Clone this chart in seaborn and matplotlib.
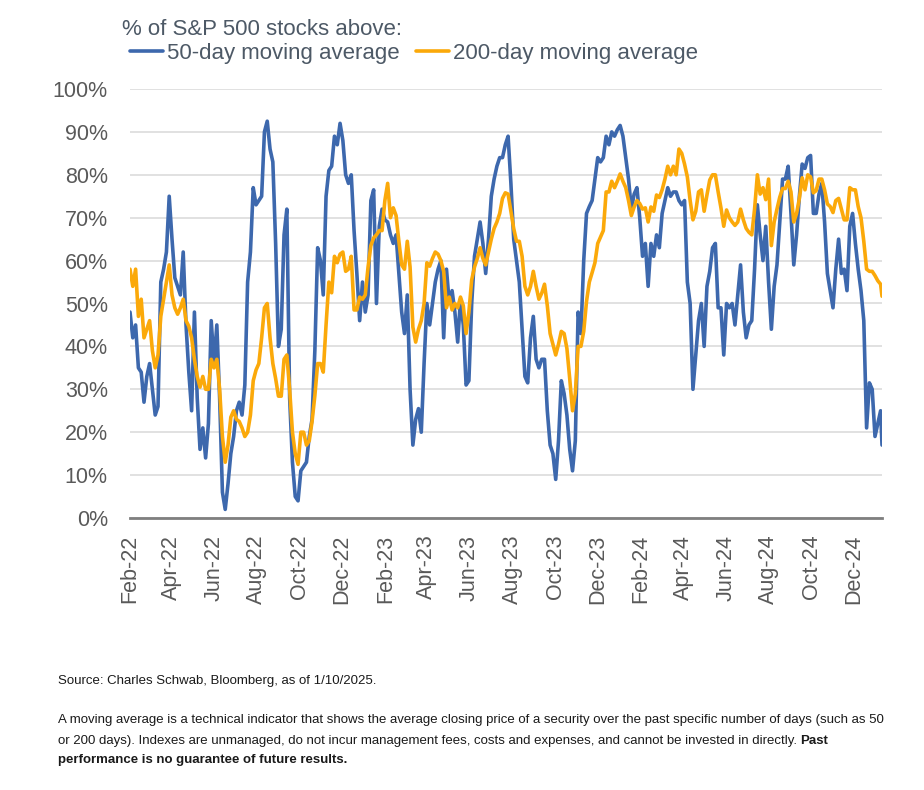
import pandas as pd
import matplotlib
matplotlib.use("Agg")
import matplotlib.pyplot as plt
import seaborn as sns
from matplotlib.ticker import MultipleLocator, PercentFormatter

# readings every 4 days from Feb 1, 2022, last one on Jan 10, 2025
dates = list(pd.date_range("2022-02-01", "2025-01-08", freq="4D")) + [pd.Timestamp("2025-01-10")]

ma50 = [
    48, 42, 45, 35, 34, 27, 33, 36, 30, 24, 26, 55, 58, 62, 75, 65, 56, 54, 52, 62,
    45, 34, 25, 48, 28, 16, 21, 14, 22, 46, 36, 45, 28, 6, 2, 8, 15, 19, 25, 27,
    24, 31, 55, 62, 77, 73, 74, 75, 90, 92.5, 86, 83, 64, 40, 44, 66, 72, 28, 13, 5,
    4, 11, 12, 13, 19, 23, 39, 63,
    60, 52, 75, 81, 82, 89, 87, 92, 88, 80, 78, 80, 67, 57, 46, 55, 48, 52, 74, 76.5,
    50, 68, 72, 69.5, 69, 66, 64, 66, 57, 48, 43, 52, 30, 17, 23, 25.5, 20, 36, 50, 45,
    50, 55, 58, 60, 42, 58, 50, 53, 48, 41, 51, 45, 31, 32, 50, 61, 65, 69, 64, 57,
    65, 75, 79, 82, 84, 84,
    87, 89, 78, 65, 60, 55, 44, 33, 31.5, 42, 47, 37, 35, 37, 37, 25, 17, 15, 9, 18,
    32, 29, 24, 16, 11, 18, 48, 43, 60, 71, 72.6, 74, 79, 84, 83, 84, 89, 87, 90, 89,
    90.5, 91.5, 89, 84, 79, 72, 75.5, 77, 70, 61, 64, 54, 64, 61, 66, 63, 71, 74, 77, 75,
    76, 76, 74, 73, 74, 55,
    50, 30, 38, 46, 50, 40, 54, 57.5, 63, 64, 49, 49, 38, 50, 49, 50, 45, 52, 59, 48,
    42, 45, 46, 58, 73, 66, 60, 68, 55, 44, 54, 59, 69, 79, 79, 82, 71, 59, 66, 75,
    82.5, 81.5, 84, 84.5, 71, 71, 75.5, 78, 69, 57, 53, 49, 58, 65, 57, 58, 53, 68, 71, 64,
    58, 53, 46, 21, 31.5, 30, 19, 22, 25, 17,
]

ma200 = [
    58, 54, 58, 47, 51, 42, 44, 46, 39, 35, 38, 47, 51, 55, 59, 52, 49, 47.5, 49, 51,
    46, 44.7, 42, 37, 33, 30.5, 33, 30, 30, 37, 35, 37, 30, 19, 13, 17, 23.5, 25, 23, 22.5,
    21, 19, 20, 24, 32, 34.5, 36, 42, 49, 50, 42, 36, 32.5, 28.4, 28.4, 37, 38, 30, 20, 15,
    12.5, 20, 20, 17, 18, 22.5, 28.5, 36,
    36, 34, 45, 55, 52.5, 61, 59.5, 61.5, 62, 57.5, 58, 61, 48.5, 48.5, 51.5, 51, 52, 58.5, 63.5, 65.3,
    66, 67, 67, 74, 78, 70, 72.3, 70.5, 64.5, 59, 58, 64.5, 58.5, 44.5, 41, 44, 46, 50, 59.5, 58.7,
    60.5, 62, 61.5, 60, 57.5, 49, 51.5, 48.5, 50, 49, 51.5, 49.5, 43, 48, 55.5, 58.5, 60.5, 63, 60.5, 59,
    62, 65, 67.5, 69, 71, 74.5,
    75.8, 75.5, 71.5, 67.5, 64.5, 64.5, 61, 54, 52, 54, 57.5, 54, 51, 52.4, 54.5, 49.5, 43, 40.5, 38, 40.5,
    43.5, 43, 39.5, 32.5, 25, 29, 40, 40, 43.5, 50.5, 55, 57.2, 59.5, 64, 65.5, 67, 76, 76, 78.5, 77,
    78.5, 80.2, 78.5, 77, 74, 70.5, 72.5, 74, 73.3, 72, 72.3, 69, 72.5, 71.5, 75.3, 74.7, 76.5, 79, 82, 80,
    82, 80, 86, 85, 82.5, 79.5,
    74, 69.5, 71.5, 76, 76.5, 71.5, 75.3, 78.8, 80, 80, 76, 72.3, 68, 71.8, 70, 69, 68.2, 69, 72, 69.5,
    67.5, 66.6, 66, 72, 80, 75.5, 77, 74.2, 79, 63.5, 69, 72, 74.8, 76.8, 76.8, 78.5, 76, 69, 71, 74.5,
    79.3, 76.5, 80, 79.5, 75.8, 76.3, 79, 79, 76.5, 73.2, 72.6, 71.2, 74, 74.5, 72, 69.5, 69.5, 77, 76.5, 76.5,
    72.6, 70, 64.5, 58, 57.5, 57.5, 56.5, 55.3, 54.5, 51.7,
]

tick_dates = pd.date_range("2022-02-01", "2024-12-01", freq="2MS")

BLUE = "#3d68ad"
ORANGE = "#fba90a"
TEXT = "#4d5966"
TICK = "#595959"

sns.set_style("white")
plt.rcParams["font.family"] = ["Liberation Sans", "DejaVu Sans"]

df = pd.DataFrame({"date": dates, "ma50": ma50, "ma200": ma200})

fig = plt.figure(figsize=(9.24, 7.9), dpi=100)
ax = fig.add_axes([130 / 924, 1 - 518 / 790, 752 / 924, 429 / 790])

sns.lineplot(data=df, x="date", y="ma50", color=BLUE, linewidth=2.6,
             label="50-day moving average", legend=False, ax=ax)
sns.lineplot(data=df, x="date", y="ma200", color=ORANGE, linewidth=2.6,
             label="200-day moving average", legend=False, ax=ax)

ax.set_ylim(0, 100)
ax.set_xlim(pd.Timestamp("2022-02-01"), pd.Timestamp("2025-01-10"))
ax.yaxis.set_major_locator(MultipleLocator(10))
ax.yaxis.set_major_formatter(PercentFormatter(100, decimals=0))
ax.set_xticks(tick_dates)
ax.set_xticklabels([d.strftime("%b-%y") for d in tick_dates])
ax.set_xlabel("")
ax.set_ylabel("")
ax.grid(axis="y", color="#d9d9d9", linewidth=1.1)
ax.set_axisbelow(True)
for s in ["top", "left", "right"]:
    ax.spines[s].set_visible(False)
ax.spines["bottom"].set_color("#7f7f7f")
ax.spines["bottom"].set_linewidth(2)
ax.tick_params(axis="x", length=0, pad=12, rotation=90, labelsize=15.5, labelcolor=TICK)
ax.tick_params(axis="y", length=0, pad=16, labelsize=15.5, labelcolor=TICK)

fig.text(122 / 924, 1 - 35 / 790, "% of S&P 500 stocks above:", fontsize=16,
         color=TEXT, va="baseline")
handles = ax.get_lines()[:2]
fig.legend(handles, [h.get_label() for h in handles], loc="center left",
           bbox_to_anchor=(130 / 924, 1 - 53 / 790), ncol=2, frameon=False,
           handlelength=1.5, handletextpad=0.15, columnspacing=0.75,
           borderpad=0, borderaxespad=0, fontsize=16, labelcolor=TEXT)

FOOT = "#1a1a1a"
fig.text(58 / 924, 1 - 684 / 790, "Source: Charles Schwab, Bloomberg, as of 1/10/2025.",
         fontsize=9.5, color=FOOT, va="baseline")
fig.text(58 / 924, 1 - 723 / 790,
         "A moving average is a technical indicator that shows the average closing price of a "
         "security over the past specific number of days (such as 50",
         fontsize=9.5, color=FOOT, va="baseline")
t2 = fig.text(58 / 924, 1 - 744 / 790,
              "or 200 days). Indexes are unmanaged, do not incur management fees, costs and "
              "expenses, and cannot be invested in directly.",
              fontsize=9.5, color=FOOT, va="baseline")
renderer = fig.canvas.get_renderer()
bb = t2.get_window_extent(renderer)
fig.text((bb.x1 + 3) / 924, 1 - 744 / 790, "Past", fontsize=9.5, color=FOOT,
         fontweight="bold", va="baseline")
fig.text(58 / 924, 1 - 763 / 790, "performance is no guarantee of future results.",
         fontsize=9.5, color=FOOT, fontweight="bold", va="baseline")

fig.savefig("out.png", dpi=100)
plt.close(fig)
